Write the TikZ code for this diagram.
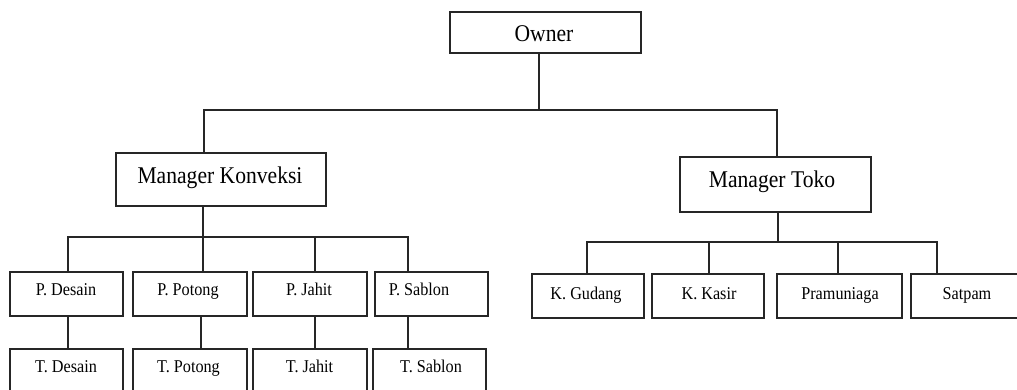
\documentclass[tikz,border=0pt]{standalone}
\usepackage{fontspec}
\setmainfont{Liberation Serif}[FakeStretch=0.9]
\begin{document}
\begin{tikzpicture}[x=1pt,y=-1pt,
  box/.style={draw=black!85, line width=1.4pt, rectangle, inner sep=0pt},
  big/.style={anchor=base, inner sep=0pt, font=\fontsize{24}{27}\selectfont},
  small/.style={anchor=base, inner sep=0pt, font=\fontsize{18}{21}\selectfont},
  conn/.style={draw=black!85, line width=1.4pt}]
\useasboundingbox[fill=white] (0,0) rectangle (1017,390);
\clip (0,0) rectangle (1017,390);
% boxes
\node[box, minimum width=191pt, minimum height=41pt] (owner) at (545.5,32.5) {};
\node[box, minimum width=210pt, minimum height=53pt] (mk) at (221,179.5) {};
\node[box, minimum width=191pt, minimum height=55pt] (mt) at (775.5,184.5) {};
\node[box, minimum width=113pt, minimum height=44pt] (pd) at (66.5,294) {};
\node[box, minimum width=114pt, minimum height=44pt] (pp) at (190,294) {};
\node[box, minimum width=114pt, minimum height=44pt] (pj) at (310,294) {};
\node[box, minimum width=113pt, minimum height=44pt] (ps) at (431.5,294) {};
\node[box, minimum width=113pt, minimum height=60pt] (td) at (66.5,379) {};
\node[box, minimum width=114pt, minimum height=60pt] (tp) at (190,379) {};
\node[box, minimum width=114pt, minimum height=60pt] (tj) at (310,379) {};
\node[box, minimum width=113pt, minimum height=60pt] (ts) at (429.5,379) {};
\node[box, minimum width=112pt, minimum height=44pt] (kg) at (588,296) {};
\node[box, minimum width=112pt, minimum height=44pt] (kk) at (708,296) {};
\node[box, minimum width=125pt, minimum height=44pt] (pr) at (839.5,296) {};
\node[box, minimum width=120pt, minimum height=44pt] (sp) at (971,296) {};
% texts
\node[big] (towner) at (544,42) {Owner};
\node[big] (tmk) at (220,184) {Manager Konveksi};
\node[big] (tmt) at (772,188) {Manager Toko};
\node[small] (tpd) at (66,295) {P. Desain};
\node[small] (tpp) at (188,295) {P. Potong};
\node[small] (tpj) at (309,295) {P. Jahit};
\node[small] (tps) at (419,295) {P. Sablon};
\node[small] (ttd) at (66,372) {T. Desain};
\node[small] (ttp) at (188.5,372) {T. Potong};
\node[small] (ttj) at (309.5,372) {T. Jahit};
\node[small] (tts) at (431,372) {T. Sablon};
\node[small] (tkg) at (586,299) {K. Gudang};
\node[small] (tkk) at (709,299) {K. Kasir};
\node[small] (tpr) at (840,299) {Pramuniaga};
\node[small] (tsp) at (967,299) {Satpam};
% junction coordinates
\coordinate (j0) at (539,110);
\coordinate (jl) at (204,110);
\coordinate (jr) at (777,110);
\coordinate (jk) at (203,237);
\coordinate (jk1) at (68,237);
\coordinate (jk2) at (203,237);
\coordinate (jk3) at (315,237);
\coordinate (jk4) at (408,237);
\coordinate (jt) at (778,242);
\coordinate (jt1) at (587,242);
\coordinate (jt2) at (709,242);
\coordinate (jt3) at (838,242);
\coordinate (jt4) at (937,242);
\coordinate (xd) at (68,0);
\coordinate (xp) at (201,0);
\coordinate (xj) at (315,0);
\coordinate (xs) at (408,0);
% connectors
\draw[conn] (owner.south -| j0) -- (j0);
\draw[conn] (mk.north -| jl) -- (jl) -- (jr) -- (mt.north -| jr);
\draw[conn] (mk.south -| jk) -- (jk);
\draw[conn] (pd.north -| jk1) -- (jk1) -- (jk4) -- (ps.north -| jk4);
\draw[conn] (jk2) -- (pp.north -| jk2);
\draw[conn] (jk3) -- (pj.north -| jk3);
\draw[conn] (mt.south -| jt) -- (jt);
\draw[conn] (kg.north -| jt1) -- (jt1) -- (jt4) -- (sp.north -| jt4);
\draw[conn] (jt2) -- (kk.north -| jt2);
\draw[conn] (jt3) -- (pr.north -| jt3);
\draw[conn] (pd.south -| xd) -- (td.north -| xd);
\draw[conn] (pp.south -| xp) -- (tp.north -| xp);
\draw[conn] (pj.south -| xj) -- (tj.north -| xj);
\draw[conn] (ps.south -| xs) -- (ts.north -| xs);
\end{tikzpicture}
\end{document}
